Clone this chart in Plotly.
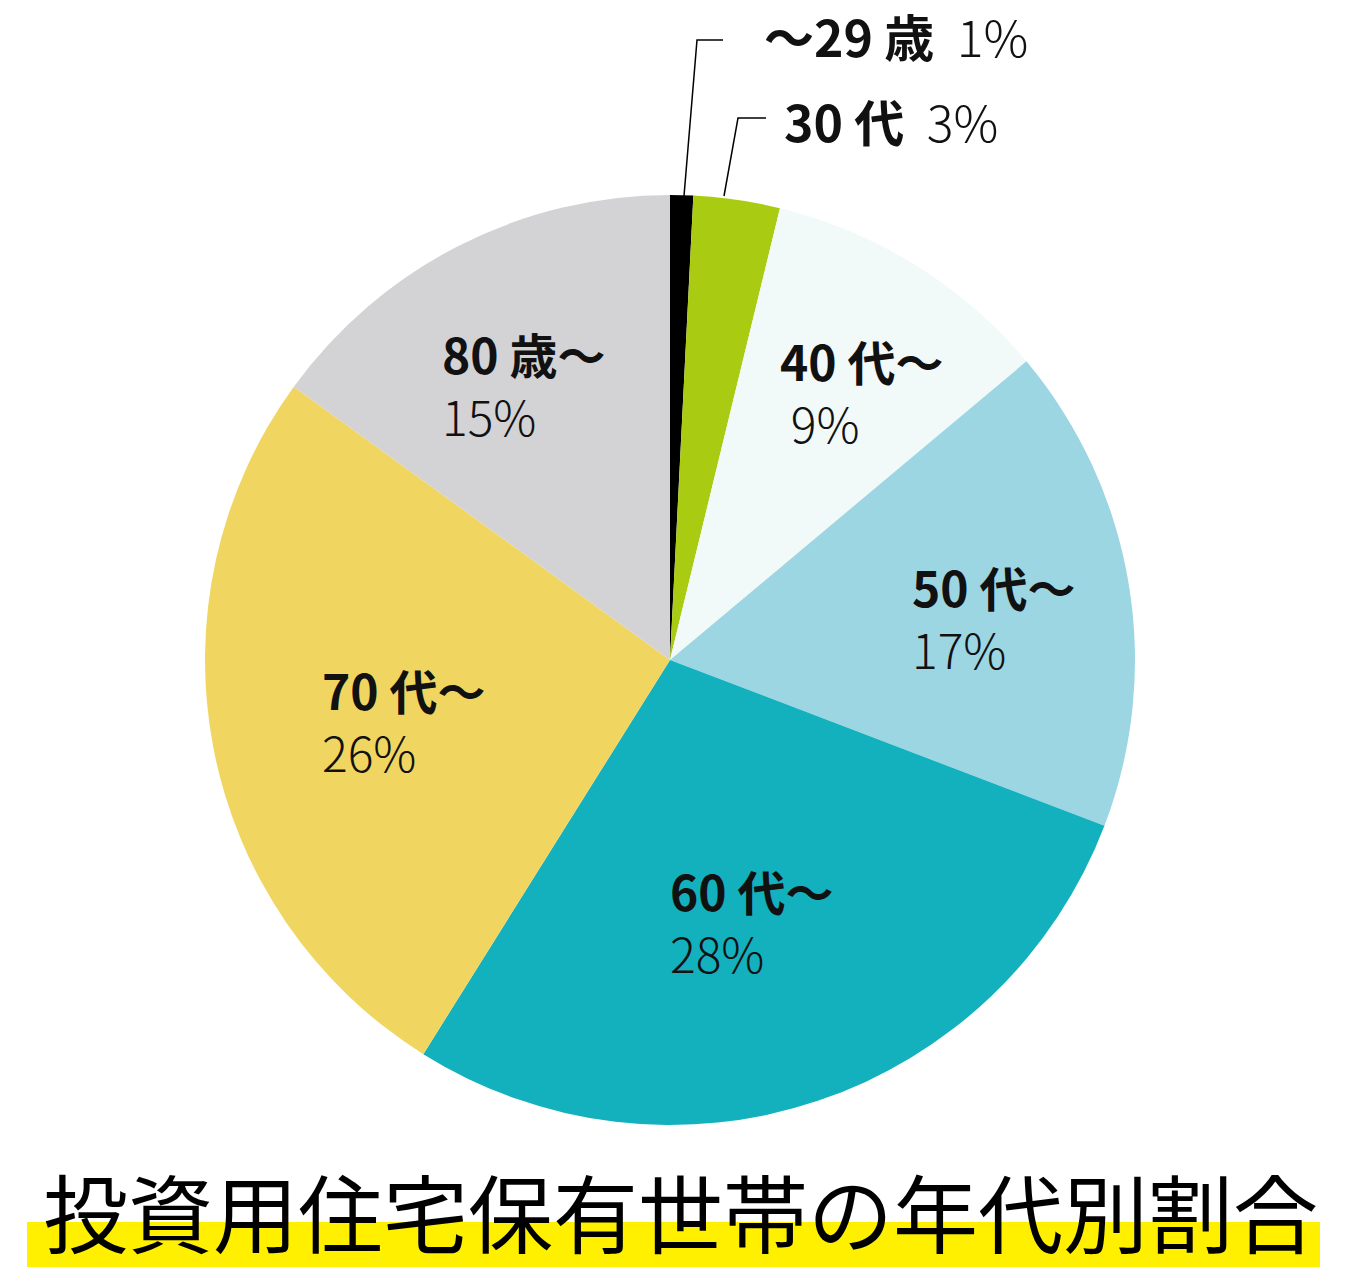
import plotly.graph_objects as go

categories = ["〜29 歳", "30 代", "40 代〜", "50 代〜", "60 代〜", "70 代〜", "80 歳〜"]
pct_labels = ["1%", "3%", "9%", "17%", "28%", "26%", "15%"]
shares = [0.8, 3.0, 10.1, 16.9, 28.1, 26.1, 15.0]
colors = ["#000000", "#a9cc13", "#f2f9f9", "#9dd6e3", "#13b1bd", "#f0d660", "#d3d3d5"]
title_text = "投資用住宅保有世帯の年代別割合"

W, H = 1352, 1281
FONT = "Noto Sans CJK JP, Noto Sans, sans-serif"

def px(x):
    return x / W

def py(y):
    return 1 - y / H

cx, cy, r = 670, 660, 465

fig = go.Figure(go.Pie(
    labels=categories,
    values=shares,
    sort=False,
    direction="clockwise",
    rotation=0,
    marker=dict(colors=colors, line=dict(width=0)),
    textinfo="none",
    hoverinfo="label+percent",
    showlegend=False,
    domain=dict(x=[px(cx - r), px(cx + r)], y=[py(cy + r), py(cy - r)]),
))

PCT = "<span style='font-weight:300'>{}</span>"

# inside labels: (category index, x of text, y of block centre, pct indent)
inside = [
    (2, 778, 391, "\u00a0"),
    (3, 910, 617, ""),
    (4, 668, 921, ""),
    (5, 320, 720, ""),
    (6, 440, 384, ""),
]
anns = []
for i, x, yc, indent in inside:
    anns.append(dict(x=px(x), y=py(yc), xref="paper", yref="paper", xanchor="left", yanchor="middle",
                     align="left",
                     text=f"<b>{categories[i]}</b><br>{indent}{PCT.format(pct_labels[i])}", showarrow=False,
                     font=dict(family=FONT, size=48, color="#111111")))

# outside labels for the two small slices
outside = [(0, 762, 35), (1, 782, 120)]
for i, x, y in outside:
    anns.append(dict(x=px(x), y=py(y), xref="paper", yref="paper", xanchor="left", yanchor="middle",
                     text=f"<b>{categories[i]}</b>  {PCT.format(pct_labels[i])}", showarrow=False,
                     font=dict(family=FONT, size=50, color="#111111")))

anns.append(dict(x=px(680), y=py(1209), xref="paper", yref="paper", xanchor="center", yanchor="middle",
                 text=title_text, showarrow=False,
                 font=dict(family=FONT, size=85, color="#000000")))

shapes = [
    dict(type="rect", xref="paper", yref="paper", x0=px(27), x1=px(1320), y0=py(1267), y1=py(1222),
         fillcolor="#fff000", line=dict(width=0), layer="below"),
    dict(type="path", xref="paper", yref="paper",
         path=f"M {px(684)} {py(196)} L {px(697)} {py(40)} L {px(723)} {py(40)}",
         line=dict(color="#000000", width=1.5)),
    dict(type="path", xref="paper", yref="paper",
         path=f"M {px(724)} {py(196)} L {px(738)} {py(118)} L {px(766)} {py(118)}",
         line=dict(color="#000000", width=1.5)),
]

fig.update_layout(
    width=W, height=H,
    margin=dict(l=0, r=0, t=0, b=0),
    paper_bgcolor="white", plot_bgcolor="white",
    annotations=anns, shapes=shapes,
)

fig.write_html("out.html", config={"displayModeBar": False},
               post_script="document.body.style.margin='0';document.body.style.overflow='hidden';")
